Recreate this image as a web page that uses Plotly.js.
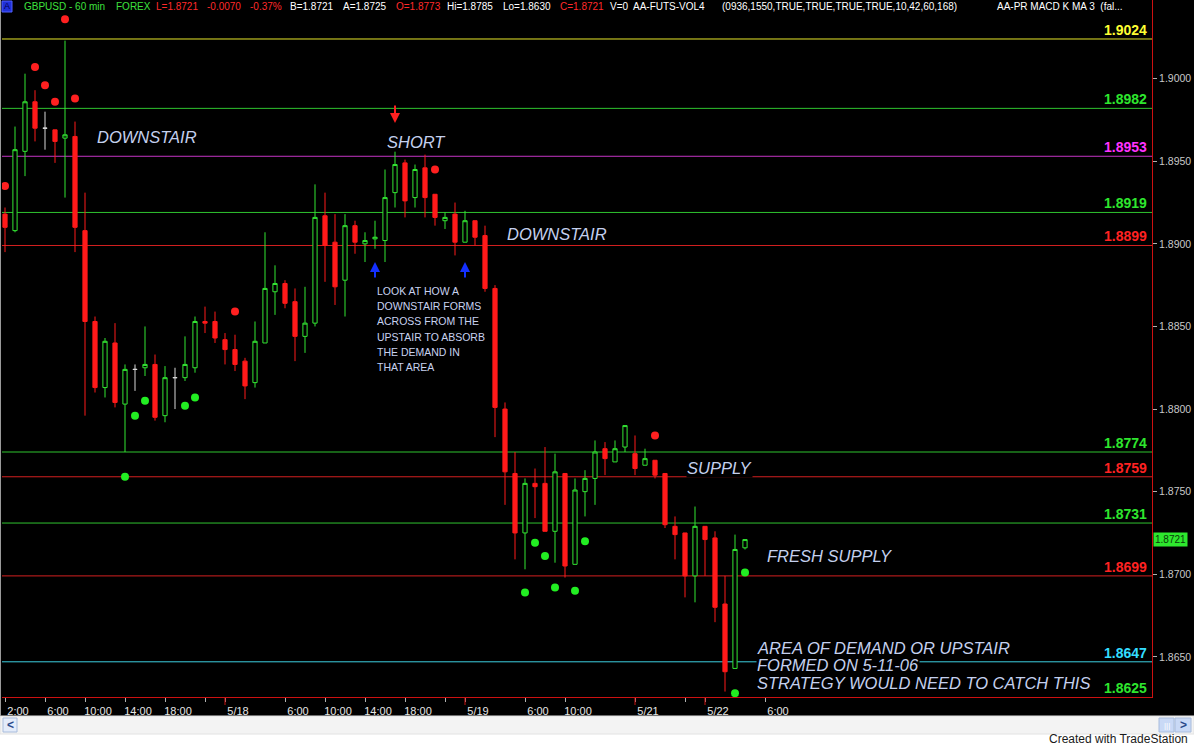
<!DOCTYPE html>
<html><head><meta charset="utf-8">
<script src="https://cdn.plot.ly/plotly-3.0.1.min.js"></script>
<style>html,body{margin:0;padding:0;background:#000;overflow:hidden}#chart{width:1194px;height:745px}</style>
</head><body><div id="chart"></div>
<script>
// ---- DATA (GBPUSD 60 min) ----
const openP  = [1.8918,1.8908,1.8956,1.8986,1.8970,1.8969,1.8964,1.8965,1.8908,1.8853,
                1.8813,1.8840,1.8803,1.8824,1.8825,1.8827,1.8796,1.8819,1.8819,1.8825,
                1.8853,1.8853,1.8842,1.8836,1.8829,1.8816,1.8840,1.8871,1.8876,1.8865,
                1.8844,1.8852,1.8917,1.8901,1.8878,1.8911,1.8900,1.8903,1.8902,1.8931,
                1.8949,1.8928,1.8946,1.8930,1.8914,1.8918,1.8901,1.8914,1.8905,1.8873,
                1.8800,1.8761,1.8725,1.8755,1.8755,1.8726,1.8761,1.8706,1.8750,1.8758,
                1.8776,1.8768,1.8777,1.8773,1.8766,1.8769,1.8761,1.8729,1.8725,1.8699,
                1.8729,1.8722,1.8682,1.8643,1.8716];
const highP  = [1.8922,1.8971,1.9003,1.8993,1.8980,1.8969,1.9023,1.8974,1.8931,1.8856,
                1.8843,1.8852,1.8827,1.8827,1.8850,1.8833,1.8826,1.8825,1.8844,1.8856,
                1.8862,1.8859,1.8846,1.8845,1.8831,1.8853,1.8907,1.8887,1.8878,1.8873,
                1.8874,1.8936,1.8931,1.8918,1.8918,1.8914,1.8907,1.8914,1.8945,1.8956,
                1.8951,1.8948,1.8954,1.8930,1.8919,1.8925,1.8920,1.8914,1.8911,1.8875,
                1.8804,1.8774,1.8758,1.8764,1.8777,1.8773,1.8761,1.8758,1.8763,1.8781,
                1.8780,1.8781,1.8790,1.8784,1.8776,1.8769,1.8761,1.8735,1.8725,1.8741,
                1.8729,1.8726,1.8699,1.8724,1.8721];
const lowP   = [1.8895,1.8907,1.8941,1.8962,1.8957,1.8949,1.8928,1.8895,1.8796,1.8810,
                1.8807,1.8801,1.8774,1.8811,1.8820,1.8793,1.8792,1.8800,1.8817,1.8822,
                1.8846,1.8840,1.8827,1.8823,1.8806,1.8813,1.8840,1.8857,1.8861,1.8829,
                1.8834,1.8850,1.8877,1.8863,1.8856,1.8894,1.8889,1.8897,1.8889,1.8922,
                1.8916,1.8922,1.8916,1.8911,1.8909,1.8893,1.8901,1.8899,1.8871,1.8783,
                1.8742,1.8709,1.8703,1.8734,1.8726,1.8707,1.8698,1.8706,1.8735,1.8742,
                1.8760,1.8768,1.8774,1.8760,1.8766,1.8758,1.8728,1.8709,1.8686,1.8683,
                1.8699,1.8671,1.8629,1.8643,1.8715];
const closeP = [1.8910,1.8957,1.8986,1.8970,1.8970,1.8962,1.8966,1.8910,1.8853,1.8813,
                1.8841,1.8804,1.8824,1.8824,1.8827,1.8795,1.8819,1.8819,1.8827,1.8853,
                1.8852,1.8843,1.8836,1.8827,1.8814,1.8841,1.8873,1.8876,1.8864,1.8844,
                1.8852,1.8916,1.8899,1.8874,1.8911,1.8901,1.8902,1.8904,1.8928,1.8948,
                1.8926,1.8945,1.8928,1.8916,1.8916,1.8901,1.8914,1.8904,1.8873,1.8801,
                1.8762,1.8725,1.8755,1.8753,1.8726,1.8762,1.8705,1.8751,1.8758,1.8774,
                1.8770,1.8776,1.8790,1.8764,1.8770,1.8760,1.8730,1.8724,1.8699,1.8729,
                1.8721,1.8680,1.8641,1.8715,1.8721];

const redDotBar     = [0, 3, 4, 5, 6, 7, 23, 43, 65];
const redDotPrice   = [1.8935,1.9007,1.8996,1.8986,1.9036,1.8988,1.8859,1.8945,1.8784];
const greenDotBar   = [12,13,14,18,19,52,53,54,55,57,58,73,74];
const greenDotPrice = [1.8759,1.8796,1.8805,1.8802,1.8807,1.8689,1.8719,1.8711,1.8692,1.8690,1.8720,1.8628,1.8701];

const levelValues = [1.9024,1.8982,1.8953,1.8919,1.8899,1.8774,1.8759,1.8731,1.8699,1.8647,1.8625];
const levelColors = ['#e6e62a','#2fc42f','#c535c5','#2fc42f','#d42020','#2fc42f','#d42020','#2fc42f','#d42020','#3ccfe0','#2fc42f'];
const levelLabelColors = ['#ffff33','#2ee62e','#ff33ff','#2ee62e','#ff2222','#2ee62e','#ff2222','#2ee62e','#ff2222','#33ddff','#2ee62e'];

const xTickBars  = [0,4,8,12,16,22,28,32,36,40,46,52,56,63,70,76];
const xTickText  = ['2:00','6:00','10:00','14:00','18:00','5/18','6:00','10:00','14:00','18:00','5/19','6:00','10:00','5/21','5/22','6:00'];
const xMinorBars = [20,44,68];
const dateTickBars = [22,46,63,70];
const yTickVals  = [1.8650,1.8700,1.8750,1.8800,1.8850,1.8900,1.8950,1.9000];
const lastPrice  = 1.8721;

const headerItems = [
  ['GBPUSD - 60 min',23,'#3ee03e'],['FOREX',115,'#3ee03e'],['L=1.8721',155,'#ff2a2a'],
  ['-0.0070',206,'#ff2a2a'],['-0.37%',249,'#ff2a2a'],['B=1.8721',289,'#ffffff'],
  ['A=1.8725',342,'#ffffff'],['O=1.8773',395,'#ff2a2a'],['Hi=1.8785',446,'#ffffff'],
  ['Lo=1.8630',502,'#ffffff'],['C=1.8721',559,'#ff2a2a'],['V=0',609,'#ffffff'],
  ['AA-FUTS-VOL4',632,'#ffffff'],['(0936,1550,TRUE,TRUE,TRUE,TRUE,10,42,60,168)',721,'#ffffff'],
  ['AA-PR MACD K MA 3  (fal...',996,'#ffffff']
];
const bigNotes = [
  ['DOWNSTAIR', 9.1, 1.89647],
  ['SHORT', 38.1, 1.89617],
  ['DOWNSTAIR', 50.1, 1.89060],
  ['SUPPLY', 68.1, 1.87643],
  ['FRESH SUPPLY', 76.1, 1.87110],
  ['AREA OF DEMAND OR UPSTAIR', 75.1, 1.86553],
  ['FORMED ON 5-11-06', 75.1, 1.86451],
  ['STRATEGY WOULD NEED TO CATCH THIS', 75.1, 1.86342]
];
const smallNotes = ['LOOK AT HOW A','DOWNSTAIR FORMS','ACROSS FROM THE','UPSTAIR TO ABSORB','THE DEMAND IN','THAT AREA'];
const smallNotesTop = 1.88715, smallNotesStep = 0.00092, smallNotesBar = 37.0;

// ---- geometry helpers (layout only) ----
const W = 1194, H = 745, ML = 2, MR = 42, MT = 0, MB = 48;
const PW = W - ML - MR, PH = H - MT - MB;
const pxX = px => (px - ML) / PW;
const pxY = py => 1 - (py - MT) / PH;
const yTop = 1.90476, yBot = 1.86257;

const bars = openP.map((_, i) => i);
const isDoji = bars.map(i => openP[i] === closeP[i]);
const sel = (arr, want) => arr.filter((_, i) => isDoji[i] === want);
const FONT = 'Liberation Sans, Arial, sans-serif';

const traces = [
  {type:'candlestick', x: sel(bars,false), open: sel(openP,false), high: sel(highP,false),
   low: sel(lowP,false), close: sel(closeP,false), hoverinfo:'skip',
   increasing:{line:{color:'#33e633', width:1}, fillcolor:'#000000'},
   decreasing:{line:{color:'#ff1a1a', width:1}, fillcolor:'#ff1a1a'}, whiskerwidth:0},
  {type:'candlestick', x: sel(bars,true), open: sel(openP,true), high: sel(highP,true),
   low: sel(lowP,true), close: sel(closeP,true), hoverinfo:'skip',
   increasing:{line:{color:'#d8d8d8', width:1}, fillcolor:'#d8d8d8'},
   decreasing:{line:{color:'#d8d8d8', width:1}, fillcolor:'#d8d8d8'}, whiskerwidth:0},
  {type:'scatter', mode:'markers', x: redDotBar, y: redDotPrice, hoverinfo:'skip',
   marker:{color:'#ff2020', size:8, line:{width:0}}},
  {type:'scatter', mode:'markers', x: greenDotBar, y: greenDotPrice, hoverinfo:'skip',
   marker:{color:'#22ee22', size:8, line:{width:0}}}
];

const shapes = [];
levelValues.forEach((v, i) => {
  if (v < yBot) return;
  shapes.push({type:'line', xref:'paper', x0:0, x1:1, yref:'y', y0:v, y1:v,
               line:{color: levelColors[i], width:1}, layer:'below'});
});
dateTickBars.forEach(b => {
  shapes.push({type:'line', xref:'x', x0:b, x1:b, yref:'paper', y0:pxY(697), y1:pxY(705),
               line:{color:'#cc1111', width:1}});
});
// bottom window chrome
shapes.push({type:'rect', xref:'paper', yref:'paper', x0:pxX(0), x1:pxX(W), y0:pxY(716), y1:pxY(H+2),
             fillcolor:'#ffffff', line:{width:0}});
shapes.push({type:'rect', xref:'paper', yref:'paper', x0:pxX(0), x1:pxX(W), y0:pxY(716), y1:pxY(734),
             fillcolor:'#f3f3f3', line:{color:'#e2e2e2', width:1}});
shapes.push({type:'rect', xref:'paper', yref:'paper', x0:pxX(3), x1:pxX(17), y0:pxY(718), y1:pxY(732),
             fillcolor:'#e4ecfa', line:{color:'#a8bcdc', width:1}});
shapes.push({type:'rect', xref:'paper', yref:'paper', x0:pxX(1159), x1:pxX(1174), y0:pxY(718), y1:pxY(732),
             fillcolor:'#c9d9f6', line:{color:'#a8bcdc', width:1}});
shapes.push({type:'rect', xref:'paper', yref:'paper', x0:pxX(1175), x1:pxX(1191), y0:pxY(718), y1:pxY(732),
             fillcolor:'#c9d9f6', line:{color:'#a8bcdc', width:1}});
shapes.push({type:'line', xref:'paper', yref:'paper', x0:pxX(0.5), x1:pxX(0.5), y0:pxY(0), y1:pxY(716),
             line:{color:'#9a9a9a', width:1}});
shapes.push({type:'rect', xref:'paper', yref:'paper', x0:pxX(2), x1:pxX(12), y0:pxY(1), y1:pxY(12),
             fillcolor:'#2030d8', line:{color:'#5060ff', width:1}});

const annotations = [];
const noteFont = {family:FONT, size:16.5, color:'#c4d0ee', style:'italic'};
bigNotes.forEach(([t, x, y]) => {
  annotations.push({text:t, x:x, y:y, xref:'x', yref:'y', xanchor:'left', yanchor:'middle',
    showarrow:false, font: noteFont, bgcolor:'#000000', borderpad:0});
});
smallNotes.forEach((t, i) => {
  annotations.push({text:t, x:smallNotesBar, y:smallNotesTop - i*smallNotesStep, xref:'x', yref:'y',
    xanchor:'left', yanchor:'middle', showarrow:false,
    font:{family:FONT, size:10.5, color:'#c8d2f0'}});
});
levelValues.forEach((v, i) => {
  const inRange = v >= yBot;
  annotations.push({text:v.toFixed(4), x:pxX(1148), xref:'paper',
    y: inRange ? v : pxY(697), yref: inRange ? 'y' : 'paper',
    xanchor:'right', yanchor:'bottom', showarrow:false, borderpad:0,
    font:{family:FONT, size:14, color:levelLabelColors[i], weight:'bold'}});
});
// arrows
annotations.push({x:39, y:1.89732, xref:'x', yref:'y', ax:0, ay:-19, text:'', showarrow:true,
  arrowhead:2, arrowsize:1, arrowwidth:2, arrowcolor:'#ff2020'});
[37, 46].forEach(b => annotations.push({x:b, y:1.88890, xref:'x', yref:'y', ax:0, ay:17, text:'',
  showarrow:true, arrowhead:2, arrowsize:1, arrowwidth:2, arrowcolor:'#1430ff'}));
// last price marker
annotations.push({text:lastPrice.toFixed(4), x:pxX(1153), xref:'paper', y:lastPrice, yref:'y',
  xanchor:'left', yanchor:'middle', showarrow:false, bgcolor:'#2ee82e', borderpad:1,
  font:{family:FONT, size:10, color:'#0a3a0a'}});
// header
annotations.push({text:'A', x:pxX(7), y:pxY(6.5), xref:'paper', yref:'paper', xanchor:'center', yanchor:'middle',
  showarrow:false, font:{family:FONT, size:9, color:'#000050'}});
headerItems.forEach(([t, px, c]) => {
  annotations.push({text:t, x:pxX(px), y:pxY(7), xref:'paper', yref:'paper', xanchor:'left', yanchor:'middle',
    showarrow:false, borderpad:0, font:{family:FONT, size:10, color:c}});
});
// chrome text
annotations.push({text:'&lt;', x:pxX(10), y:pxY(725), xref:'paper', yref:'paper', xanchor:'center', yanchor:'middle',
  showarrow:false, font:{family:FONT, size:12, color:'#2a4a8a', weight:'bold'}});
annotations.push({text:'&gt;', x:pxX(1183), y:pxY(725), xref:'paper', yref:'paper', xanchor:'center', yanchor:'middle',
  showarrow:false, font:{family:FONT, size:12, color:'#2a4a8a', weight:'bold'}});
annotations.push({text:'|||', x:pxX(1166.5), y:pxY(725), xref:'paper', yref:'paper', xanchor:'center', yanchor:'middle',
  showarrow:false, font:{family:FONT, size:8, color:'#ffffff'}});
annotations.push({text:'Created with TradeStation', x:pxX(1190), y:pxY(739), xref:'paper', yref:'paper',
  xanchor:'right', yanchor:'middle', showarrow:false,
  font:{family:FONT, size:12, color:'#1a1a1a'}});

const layout = {
  width: W, height: H, margin:{l:ML, r:MR, t:MT, b:MB, pad:0},
  paper_bgcolor:'#000000', plot_bgcolor:'#000000', showlegend:false, dragmode:false,
  xaxis:{range:[-0.3, 114.7], tickmode:'array', tickvals:xTickBars, ticktext:xTickText,
    ticks:'outside', ticklen:4, tickcolor:'#b0b0b0', tickwidth:1, ticklabelshift:13,
    tickfont:{family:FONT, size:11, color:'#e6e6e6'},
    minor:{tickmode:'array', tickvals:xMinorBars, ticks:'outside', ticklen:4, tickcolor:'#b0b0b0'},
    showline:true, linecolor:'#cc1111', linewidth:1, showgrid:false, zeroline:false,
    rangeslider:{visible:false}, fixedrange:true},
  yaxis:{side:'right', range:[yBot, yTop], tickmode:'array', tickvals:yTickVals, tickformat:'.4f',
    ticks:'outside', ticklen:4, tickcolor:'#b0b0b0', showline:true, linecolor:'#cc1111', linewidth:1,
    tickfont:{family:FONT, size:10.5, color:'#c8c8c8'},
    showgrid:false, zeroline:false, fixedrange:true},
  boxgap:0.4,
  shapes: shapes, annotations: annotations
};
Plotly.newPlot('chart', traces, layout, {displayModeBar:false, staticPlot:true});
</script></body></html>
